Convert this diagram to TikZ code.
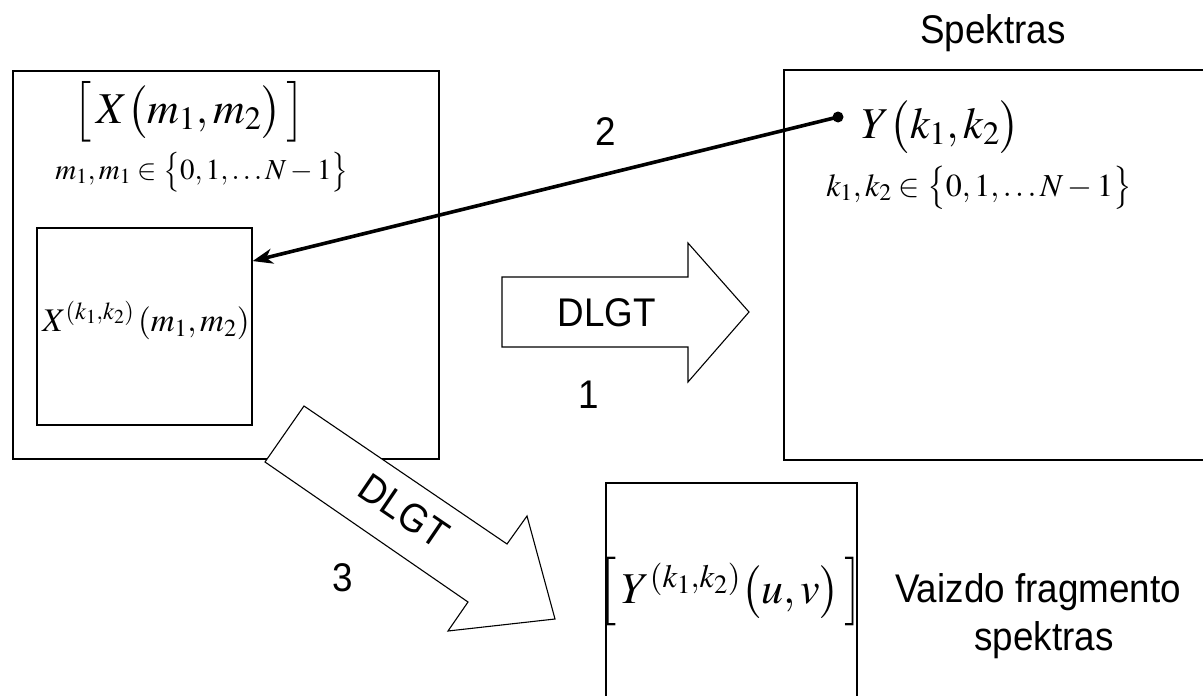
\documentclass[tikz,border=0pt]{standalone}
\usepackage{amsmath}
\usepackage{graphicx}
\usepackage{mathptmx}
\usepackage{fontspec}
\newfontfamily\lsans[FakeStretch=0.92]{Liberation Sans}
\usetikzlibrary{arrows.meta,calc}
\newcommand\dlL[2]{\mathopen{\vcenter{\hbox{\scalebox{1}[#1]{$\bigl#2$}}}}}
\newcommand\dlR[2]{\mathclose{\vcenter{\hbox{\scalebox{1}[#1]{$\bigr#2$}}}}}
\begin{document}
\begin{tikzpicture}[x=1pt,y=-1pt,
  box/.style={draw, line width=1.3pt, inner sep=0pt},
  frame/.style={line width=1.3pt},
  lbl/.style={font=\lsans\fontsize{40}{48}\selectfont, inner sep=0pt},
  blockarrow/.style={draw, line width=1.1pt, fill=white, line join=miter},
  mbig/.style={inner sep=0pt, font=\fontsize{44}{53}\selectfont},
  mfrag/.style={inner sep=0pt, font=\fontsize{33}{40}\selectfont},
  mleft/.style={inner sep=0pt, font=\fontsize{29}{35}\selectfont},
  mright/.style={inner sep=0pt, font=\fontsize{32}{38}\selectfont},
  conn/.style={line width=3.6pt, -{Stealth[length=20pt,width=15pt,inset=6pt]}}]
\useasboundingbox (0,0) rectangle (1203,696);

% left image box and fragment
\node[box, minimum width=426pt, minimum height=388pt] (img) at (226,265) {};
\node[box, minimum width=215pt, minimum height=197pt] (frag) at (144.5,326.5) {};
\node[mbig] (Xm) at (189,112) {$\dlL{1.15}[\,X\bigl(m_1,m_2\bigr)\,\dlR{1.15}]$};
\node[mleft] (Xrange) at (202,172) {$m_1,m_1\in\dlL{1.15}\{0,1,\ldots N-1\dlR{1.15}\}$};
\node[mfrag] (Xfrag) at (146,320) {$X^{(k_1,k_2)}\,(m_1,m_2)$};

% spectrum box (open at right, cut by the page)
\draw[frame] (1204,70) -- (784,70) -- (784,460) -- (1204,460);
\node[lbl] (spek) at (993,33) {Spektras};
\node[mbig] (Yk) at (941,127) {$Y\bigl(k_1,k_2\bigr)$};
\node[mright] (Yrange) at (979,188) {$k_1,k_2\in\dlL{1.13}\{0,1,\ldots N-1\dlR{1.13}\}$};
\node[circle, fill=black, minimum size=11pt, inner sep=0pt] (dot) at (838,117) {};

% connector 2
\draw[conn] (dot.center) -- ($(frag.north east)!0.17!(frag.south east)$);
\node[lbl] (n2) at (606,132) {2};

% block arrow 1
\draw[blockarrow] (502,277) -- (688,277) -- (688,243) -- (749,312) -- (688,382) -- (688,347) -- (502,347) -- cycle;
\node[lbl] (dlgt1) at (607,313) {DLGT};
\node[lbl] (n1) at (589,395) {1};

% block arrow 3
\draw[blockarrow] (304,406) -- (507,544) -- (527,516) -- (555,619) -- (448,631) -- (468,602) -- (265,462) -- cycle;
\node[lbl, rotate=-34.2] (dlgt3) at (404,511) {DLGT};
\node[lbl] (n3) at (343,578) {3};

% fragment spectrum box (open at bottom)
\draw[frame] (606,697) -- (606,483) -- (857,483) -- (857,697);
\node[mbig] (Yuv) at (731,592) {$\dlL{1.3}[\,Y^{(k_1,k_2)}\bigl(u,v\bigr)\,\dlR{1.3}]$};
\node[lbl] (vf1) at (1038,592) {Vaizdo fragmento};
\node[lbl] (vf2) at (1044,640) {spektras};
\end{tikzpicture}
\end{document}
